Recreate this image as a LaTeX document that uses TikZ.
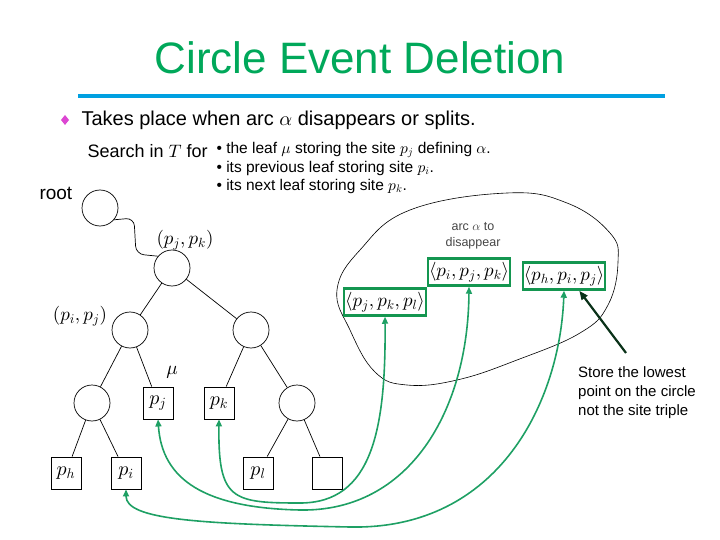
\documentclass[tikz,border=0pt]{standalone}
\usepackage{amsmath}
\usepackage{fontspec}
\setmainfont{Liberation Sans}
\DeclareFontShape{OML}{cmm}{m}{it}{<->cmmi10}{}
\DeclareFontShape{OMS}{cmsy}{m}{n}{<->cmsy10}{}
\DeclareFontShape{OMX}{cmex}{m}{n}{<->cmex10}{}
\DeclareFontShape{OT1}{cmr}{m}{n}{<->cmr10}{}
\usepackage{tikz}
\usetikzlibrary{positioning}
\usetikzlibrary{arrows.meta}
\definecolor{titlegreen}{RGB}{0,168,90}
\definecolor{barblue}{RGB}{0,160,225}
\definecolor{bulletpink}{RGB}{220,70,210}
\definecolor{boxgreen}{RGB}{20,150,80}
\definecolor{ptrgreen}{RGB}{30,160,100}
\definecolor{darkarrow}{RGB}{10,50,25}
\definecolor{notegray}{RGB}{70,70,70}

\begin{document}
\begin{tikzpicture}[x=1pt, y=-1pt, on grid,
    inner/.style={draw, circle, minimum size=36pt, inner sep=0pt, line width=0.7pt},
    leaf/.style={draw, minimum width=30pt, minimum height=32pt, inner sep=0pt, line width=0.9pt, font=\fontsize{20}{22}\selectfont},
    lbl/.style={font=\fontsize{19}{22}\selectfont},
    triple/.style={draw=boxgreen, fill=white, line width=2.5pt, minimum width=82pt, minimum height=27pt, inner sep=0pt, font=\fontsize{19}{22}\selectfont},
    ptr/.style={draw=ptrgreen, line width=1.6pt, {Triangle[length=7pt,width=6pt]}-{Triangle[length=7pt,width=6pt]}}]

    \useasboundingbox (0,0) rectangle (720,540);

    % header
    \node(title)[text=titlegreen, font=\fontsize{44}{48}\selectfont] at (360,58) {Circle Event Deletion};
    \draw[barblue, line width=4pt] (78,96) -- (665,96);
    \fill[bulletpink] (65,115) -- (69,120) -- (65,125) -- (61,120) -- cycle;
    \node(takes)[anchor=west, font=\fontsize{20}{22}\selectfont] at (78,120) {Takes place when arc $\alpha$ disappears or splits.};
    \node(search)[anchor=west, font=\fontsize{18}{20}\selectfont] at (84,151) {Search in $T$ for};
    \node(b1)[anchor=west, font=\fontsize{15.5}{18}\selectfont] at (213,150) {• the leaf $\mu$ storing the site $p_j$ defining $\alpha$.};
    \node(b2)[anchor=west, font=\fontsize{15.5}{18}\selectfont] at (213,168) {• its previous leaf storing site $p_i$.};
    \node(b3)[anchor=west, font=\fontsize{15.5}{18}\selectfont] at (213,186) {• its next leaf storing site $p_k$.};

    % tree
    \node(rootlbl)[anchor=west, font=\fontsize{19}{21}\selectfont] at (36,193) {root};
    \node(R)[inner] at (100,208) {};
    \node(P)[inner, below right=60pt and 72pt of R] {};
    \node(L)[inner, below left=62pt and 42pt of P] {};
    \node(Rt)[inner, below right=62pt and 79pt of P] {};
    \node(LL)[inner, below left=73pt and 38pt of L] {};
    \node(pj)[leaf, below right=73pt and 28pt of L] {$p_j$};
    \node(pk)[leaf, below left=73pt and 32pt of Rt] {$p_k$};
    \node(RR)[inner, below right=73pt and 46pt of Rt] {};
    \node(ph)[leaf, below left=70pt and 26pt of LL] {$p_h$};
    \node(pi)[leaf, below right=70pt and 34pt of LL] {$p_i$};
    \node(pl)[leaf, below left=70pt and 39pt of RR] {$p_l$};
    \node(pe)[leaf, below right=70pt and 30pt of RR] {};

    \node(Plbl)[lbl, above right=28pt and 13pt of P] {$(p_j,p_k)$};
    \node(Llbl)[lbl, above left=14pt and 50pt of L] {$(p_i,p_j)$};
    \node(mu)[lbl, above right=31pt and 14pt of pj] {$\mu$};

    \draw[line width=0.7pt, rounded corners=8pt] (R.-40) -- (134,218) -- (136,254) -- (P.140);
    \draw[line width=0.7pt] (P) -- (L);
    \draw[line width=0.7pt] (P) -- (Rt);
    \draw[line width=0.7pt] (L) -- (LL);
    \draw[line width=0.7pt] (L) -- (pj);
    \draw[line width=0.7pt] (Rt) -- (pk);
    \draw[line width=0.7pt] (Rt) -- (RR);
    \draw[line width=0.7pt] (LL) -- (ph);
    \draw[line width=0.7pt] (LL) -- (pi);
    \draw[line width=0.7pt] (RR) -- (pl);
    \draw[line width=0.7pt] (RR) -- (pe);

    % circle of the event
    \draw[line width=0.6pt] plot[smooth cycle, tension=0.7] coordinates {(507,193) (567,203) (610,233) (618,262) (608,305) (580,333) (517,360) (457,380) (407,385) (375,372) (350,330) (337,290) (360,250) (410,210)};

    \node(arclbl)[text=notegray, align=center, font=\fontsize{12.5}{16}\selectfont] at (473,236) {arc $\alpha$ to\\disappear};
    \node(G1)[triple] at (385,302) {$\langle p_j,p_k,p_l\rangle$};
    \node(G2)[triple] at (469,272) {$\langle p_i,p_j,p_k\rangle$};
    \node(G3)[triple] at (564,276) {$\langle p_h,p_i,p_j\rangle$};

    % pointers
    \draw[ptr] (pk.south) .. controls (218,500) and (232,503) .. (300,503) .. controls (372,503) and (386,430) .. (G1.south);
    \draw[ptr] (pj.south) .. controls (162,480) and (205,508) .. (300,510) .. controls (410,512) and (468,410) .. (G2.south);
    \draw[ptr] (pi.south) .. controls (126,520) and (200,524) .. (350,527) .. controls (500,530) and (560,400) .. (G3.south);

    % note
    \coordinate(tail) at (626,353);
    \draw[darkarrow, line width=2.2pt, -{Triangle[length=9pt,width=7pt]}] (tail) -- (G3.-44);
    \node(note)[anchor=north west, align=left, inner sep=0pt, font=\fontsize{15}{19}\selectfont] at (578,366) {Store the lowest\\point on the circle\\not the site triple};

\end{tikzpicture}
\end{document}
